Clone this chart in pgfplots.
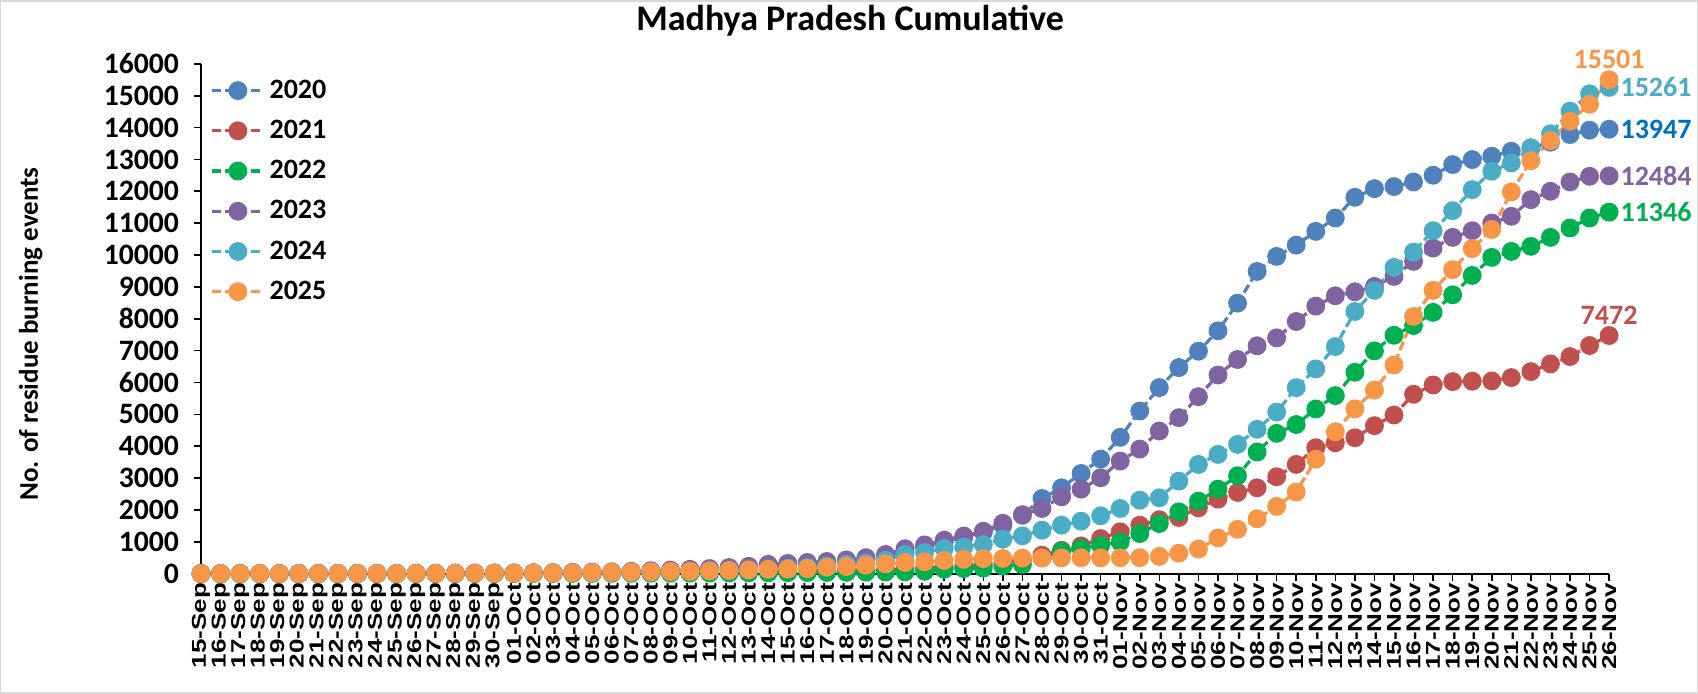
\documentclass[border=0pt]{standalone}
\usepackage{fontspec}
\setmainfont{Carlito}
\newfontfamily\xlabfont[FakeStretch=1.3]{Liberation Sans}
\usepackage{pgfplots}
\pgfplotsset{compat=1.18}
\usepackage{pgfplotstable}

\definecolor{c20}{HTML}{4F81BD}
\definecolor{c21}{HTML}{C0504D}
\definecolor{c22}{HTML}{00B050}
\definecolor{c23}{HTML}{8064A2}
\definecolor{c24}{HTML}{4BACC6}
\definecolor{c25}{HTML}{F79646}
\definecolor{lab20}{HTML}{0070C0}
\definecolor{frame}{HTML}{D9D9D9}

% cumulative events, day index 0 = 15-Sep ... 72 = 26-Nov
\pgfplotstableread{
i  y2020 y2021 y2022 y2023 y2024 y2025
0  0     0     0     0     0     0
1  0     0     0     0     0     0
2  0     0     0     0     0     0
3  0     0     0     0     0     0
4  0     0     0     0     0     0
5  1     0     0     1     0     0
6  2     1     0     2     1     1
7  3     2     0     3     2     2
8  4     3     0     4     3     3
9  5     4     0     5     4     4
10 6     5     0     6     5     5
11 8     6     0     8     6     6
12 10    7     0     10    7     8
13 12    8     0     12    8     10
14 14    10    0     14    10    12
15 16    12    0     17    12    14
16 18    14    2     20    14    17
17 22    16    3     25    17    20
18 27    18    4     30    20    24
19 33    20    5     38    24    28
20 40    23    6     46    28    33
21 48    26    8     55    33    40
22 60    30    10    70    40    48
23 78    34    12    90    48    56
24 95    38    14    110   58    65
25 115   43    16    135   70    75
26 140   48    18    160   85    86
27 165   54    20    190   100   98
28 200   60    23    230   120   115
29 250   68    26    290   145   136
30 280   76    29    320   170   140
31 310   85    32    350   200   157
32 340   95    36    380   240   199
33 390   105   40    430   290   220
34 450   118   45    500   330   262
35 540   130   50    600   420   304
36 700   150   55    780   597   350
37 850   175   75    900   660   370
38 1000  200   136   1050  786   410
39 1150  240   157   1180  838   450
40 1300  280   170   1330  912   470
41 1520  340   241   1580  1080  475
42 1830  430   283   1850  1184  485
43 2358  577   493   2044  1363  490
44 2693  733   702   2410  1520  493
45 3144  870   786   2651  1645  495
46 3595  1100  891   3008  1813  495
47 4276  1310  996   3532  2044  498
48 5104  1520  1258  3909  2305  500
49 5838  1690  1572  4475  2379  540
50 6467  1760  1939  4894  2903  640
51 6980  2064  2274  5554  3427  770
52 7620  2337  2651  6235  3741  1120
53 8489  2547  3071  6720  4056  1390
54 9484  2693  3815  7150  4530  1720
55 9957  3040  4402  7400  5070  2110
56 10310 3427  4680  7912  5837  2560
57 10742 3951  5167  8395  6424  3590
58 11161 4108  5586  8720  7126  4450
59 11811 4265  6319  8845  8227  5170
60 12083 4643  6990  9013  8890  5760
61 12147 4978  7480  9327  9610  6550
62 12293 5628  7786  9799  10092 8070
63 12503 5921  8200  10218 10763 8890
64 12838 6026  8751  10553 11392 9540
65 12995 6040  9359  10763 12052 10200
66 13100 6047  9925  11004 12629 10800
67 13257 6152  10113 11214 12890 11980
68 13362 6341  10271 11737 13362 12960
69 13540 6581  10553 12000 13802 13590
70 13781 6812  10847 12293 14515 14200
71 13918 7158  11161 12470 15060 14730
72 13947 7472  11346 12484 15261 15501
}\mpdata

\newcommand\lblfont{\bfseries\fontsize{14}{14}\selectfont}

\begin{document}
\begin{tikzpicture}
\begin{axis}[
    width=703pt, height=254.5pt, scale only axis,
    xmin=0, xmax=72, ymin=0, ymax=16000,
    clip=false,
    axis x line*=bottom, axis y line*=left,
    axis line style={-, line width=1pt, black},
    tick align=outside, major tick length=3.5pt,
    tick style={black, line width=0.8pt},
    xtick={0,...,72},
    xticklabels={15-Sep,16-Sep,17-Sep,18-Sep,19-Sep,20-Sep,21-Sep,22-Sep,23-Sep,24-Sep,25-Sep,26-Sep,27-Sep,28-Sep,29-Sep,30-Sep,
        01-Oct,02-Oct,03-Oct,04-Oct,05-Oct,06-Oct,07-Oct,08-Oct,09-Oct,10-Oct,11-Oct,12-Oct,13-Oct,14-Oct,15-Oct,16-Oct,
        17-Oct,18-Oct,19-Oct,20-Oct,21-Oct,22-Oct,23-Oct,24-Oct,25-Oct,26-Oct,27-Oct,28-Oct,29-Oct,30-Oct,31-Oct,
        01-Nov,02-Nov,03-Nov,04-Nov,05-Nov,06-Nov,07-Nov,08-Nov,09-Nov,10-Nov,11-Nov,12-Nov,13-Nov,
        14-Nov,15-Nov,16-Nov,17-Nov,18-Nov,19-Nov,20-Nov,21-Nov,22-Nov,23-Nov,24-Nov,25-Nov,26-Nov},
    xticklabel style={rotate=90, anchor=east, inner sep=1pt,
        font=\xlabfont\bfseries\fontsize{10}{10}\selectfont},
    ytick={0,1000,...,16000},
    scaled y ticks=false,
    yticklabel style={font=\bfseries\fontsize{14.8}{15}\selectfont, xshift=-4pt,
        /pgf/number format/1000 sep={},
        /pgf/number format/assume math mode=true},
    ylabel={No. of residue burning events},
    ylabel style={at={(rel axis cs:-0.121,0.47)}, anchor=center,
        font=\bfseries\fontsize{13.5}{14}\selectfont},
    title={Madhya Pradesh Cumulative},
    title style={at={(rel axis cs:0.461,1.061)}, anchor=center,
        font=\bfseries\fontsize{18}{20}\selectfont},
    legend style={draw=none, fill=none, at={(rel axis cs:0.002,0.985)},
        anchor=north west, row sep=5.4pt,
        font=\lblfont},
    legend cell align=left,
    legend image code/.code={
        \draw[mark repeat=2, mark phase=2]
        plot coordinates {(0pt,0pt) (13pt,0pt) (26pt,0pt)};},
    every axis plot/.append style={line width=1.6pt,
        dash pattern=on 4.5pt off 2pt, mark=*, mark size=3.9pt},
]
\addplot[c20, mark options={solid, fill=c20, draw=c20}] table[x=i, y=y2020] {\mpdata};
\addplot[c21, mark options={solid, fill=c21, draw=c21}] table[x=i, y=y2021] {\mpdata};
\addplot[c22, mark options={solid, fill=c22, draw=c22}] table[x=i, y=y2022] {\mpdata};
\addplot[c23, mark options={solid, fill=c23, draw=c23}] table[x=i, y=y2023] {\mpdata};
\addplot[c24, mark options={solid, fill=c24, draw=c24}] table[x=i, y=y2024] {\mpdata};
\addplot[c25, mark options={solid, fill=c25, draw=c25}] table[x=i, y=y2025] {\mpdata};
\legend{2020,2021,2022,2023,2024,2025}

\node[anchor=south, text=c25, font=\lblfont, inner sep=1pt, yshift=4.5pt] at (axis cs:72,15501) {15501};
\node[anchor=west, text=c24, font=\lblfont, inner sep=1pt, xshift=4.5pt] at (axis cs:72,15261) {15261};
\node[anchor=west, text=lab20, font=\lblfont, inner sep=1pt, xshift=4.5pt] at (axis cs:72,13947) {13947};
\node[anchor=west, text=c23, font=\lblfont, inner sep=1pt, xshift=4.5pt] at (axis cs:72,12484) {12484};
\node[anchor=west, text=c22, font=\lblfont, inner sep=1pt, xshift=4.5pt] at (axis cs:72,11346) {11346};
\node[anchor=south, text=c21, font=\lblfont, inner sep=1pt, yshift=4.5pt] at (axis cs:72,7472) {7472};
\end{axis}
\pgfresetboundingbox
\draw[frame, line width=0.75pt]
    ([shift={(-100pt,-59.5pt)}]current axis.south west) rectangle
    ([shift={(747pt,286pt)}]current axis.south west);
\end{tikzpicture}
\end{document}
